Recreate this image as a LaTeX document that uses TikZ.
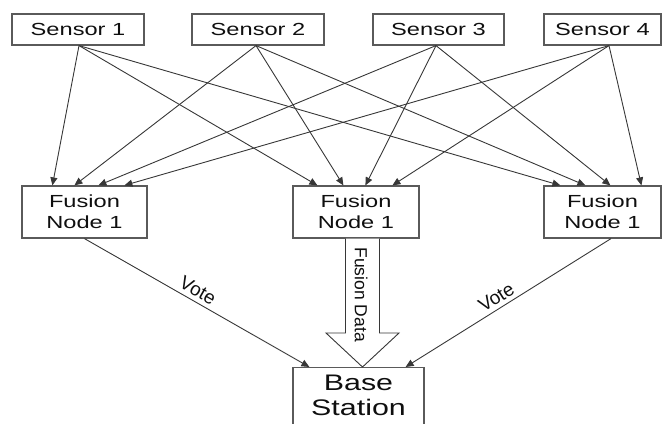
\documentclass[tikz,border=0pt]{standalone}
\usepackage{fontspec}
\setmainfont{Liberation Sans}[FakeStretch=1.35]
\newfontfamily\uprightfont{Liberation Sans}
\usepackage{tikz}
\usetikzlibrary{arrows.meta,calc}
\definecolor{snLine}{RGB}{55,55,55}
\definecolor{snBox}{RGB}{90,90,90}
\definecolor{snText}{RGB}{15,15,15}
\tikzset{
    txt/.style={font=\fontsize{17.5}{21}\selectfont, text=snText, align=center},
    sensor/.style={txt, rectangle, draw=snBox, line width=1.2pt,
                   minimum height=31pt, inner sep=0pt},
    fusion/.style={txt, rectangle, draw=snBox, line width=1.2pt,
                   minimum height=52pt, inner sep=0pt},
    link/.style={-{Triangle[length=8pt,width=7pt]}, line width=0.9pt, draw=snLine},
    vote/.style={txt, font=\uprightfont\fontsize{19}{21}\selectfont, sloped, above=3pt, inner sep=1pt},
    fat/.style={draw=snLine, line width=0.9pt, fill=white, line join=miter}
}

\begin{document}
\begin{tikzpicture}[x=1pt, y=-1pt]
  \useasboundingbox (0,0) rectangle (663,423);
  % sensors
  \node[sensor, minimum width=132pt] (s1) at (78,29.5) {Sensor 1};
  \node[sensor, minimum width=132pt] (s2) at (258,29.5) {Sensor 2};
  \node[sensor, minimum width=131pt] (s3) at (438.5,29.5) {Sensor 3};
  \node[sensor, minimum width=117pt] (s4) at (602.5,29.5) {Sensor 4};
  % fusion nodes and base station
  \node[fusion, minimum width=125pt] (f1) at (84.5,212) {Fusion\\Node 1};
  \node[fusion, minimum width=126pt] (f2) at (356,212) {Fusion\\Node 1};
  \node[fusion, minimum width=117pt] (f3) at (602.5,212) {Fusion\\Node 1};
  \node[fusion, minimum width=131pt, font=\fontsize{22.5}{25}\selectfont,
        anchor=north, inner ysep=7pt] (bs) at (358.5,367)
        {Base\\Station\rule[-14pt]{0pt}{1pt}};
  % every sensor feeds every fusion node
  \foreach \s/\d/\a/\b/\c in {1/1/31/25/17, 2/-2/53/51/42, 3/-2.5/77/73/67, 4/6.5/103/100/98} {
    \draw[link] ([xshift=\d]s\s.south) -- ([xshift=\a]f1.north west);
    \draw[link] ([xshift=\d]s\s.south) -- ([xshift=\b]f2.north west);
    \draw[link] ([xshift=\d]s\s.south) -- ([xshift=\c]f3.north west);
  }
  % votes
  \draw[link] (f1.south) -- node[vote, pos=0.48] {Vote} ([xshift=17]bs.north west);
  \draw[link] ([xshift=8.5]f3.south) -- node[vote, pos=0.53] {Vote} ([xshift=-19]bs.north east);
  % fusion data
  \coordinate (tip) at ([xshift=4]bs.north);
  \draw[fat] ($(tip |- f2.south)+(-17,0)$) -- ($(tip)+(-17,-34)$) -- ($(tip)+(-36.5,-34)$)
    -- (tip) -- ($(tip)+(36.5,-34)$) -- ($(tip)+(17,-34)$) -- ($(tip |- f2.south)+(17,0)$);
  \node[txt, font=\uprightfont\fontsize{17.5}{21}\selectfont, rotate=-90, inner sep=0pt]
    (fd) at ($(tip |- f2.south)+(-1.5,56)$) {Fusion Data};
\end{tikzpicture}
\end{document}
